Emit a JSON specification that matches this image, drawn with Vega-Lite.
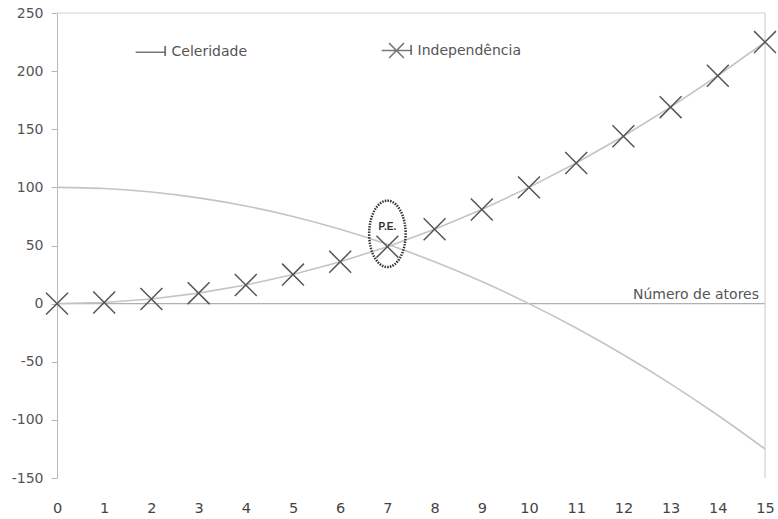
{
  "$schema": "https://vega.github.io/schema/vega-lite/v6.json",
  "width": 708,
  "height": 465,
  "autosize": {"type": "none"},
  "padding": {"left": 57, "top": 13, "right": 13, "bottom": 41},
  "background": "white",
  "config": {
    "view": {"stroke": null},
    "font": "DejaVu Sans",
    "axis": {"grid": false}
  },
  "datasets": {
    "series": [
      {"x": 0, "cel": 100, "ind": 0},
      {"x": 1, "cel": 99, "ind": 1},
      {"x": 2, "cel": 96, "ind": 4},
      {"x": 3, "cel": 91, "ind": 9},
      {"x": 4, "cel": 84, "ind": 16},
      {"x": 5, "cel": 75, "ind": 25},
      {"x": 6, "cel": 64, "ind": 36},
      {"x": 7, "cel": 51, "ind": 49},
      {"x": 8, "cel": 36, "ind": 64},
      {"x": 9, "cel": 19, "ind": 81},
      {"x": 10, "cel": 0, "ind": 100},
      {"x": 11, "cel": -21, "ind": 121},
      {"x": 12, "cel": -44, "ind": 144},
      {"x": 13, "cel": -69, "ind": 169},
      {"x": 14, "cel": -96, "ind": 196},
      {"x": 15, "cel": -125, "ind": 225}
    ]
  },
  "layer": [
    {
      "data": {"values": [{"y": 0}]},
      "mark": {"type": "rule", "color": "#b0b0b0", "strokeWidth": 1.2},
      "encoding": {"y": {"field": "y", "type": "quantitative", "scale": {"domain": [-150, 250], "nice": false},
          "axis": {"values": [-150,-100,-50,0,50,100,150,200,250], "labelExpr": "toString(datum.value)", "domain": true, "domainColor": "#b8b8b8", "tickColor": "#b8b8b8", "tickSize": 6, "labelPadding": 8, "labelFontSize": 14, "labelColor": "#555", "title": null}}}
    },
    {
      "data": {"values": [{"y": 250}]},
      "mark": {"type": "rule", "color": "#d0d0d0", "strokeWidth": 1},
      "encoding": {"y": {"field": "y", "type": "quantitative"}}
    },
    {
      "data": {"values": [{"x": 15}]},
      "mark": {"type": "rule", "color": "#c8c8c8", "strokeWidth": 1},
      "encoding": {"x": {"field": "x", "type": "quantitative", "scale": {"domain": [0, 15], "nice": false},
          "axis": {"orient": "bottom", "domain": false, "ticks": false, "values": [0,1,2,3,4,5,6,7,8,9,10,11,12,13,14,15], "labelPadding": 23, "labelFontSize": 14.5, "labelColor": "#444", "title": null, "labelFlush": false}}}
    },
    {
      "data": {"name": "series"},
      "mark": {"type": "line", "color": "#c4c4c4", "strokeWidth": 1.6, "interpolate": "monotone"},
      "encoding": {
        "x": {"field": "x", "type": "quantitative"},
        "y": {"field": "cel", "type": "quantitative"}
      }
    },
    {
      "data": {"name": "series"},
      "mark": {"type": "line", "color": "#c4c4c4", "strokeWidth": 1.6},
      "encoding": {
        "x": {"field": "x", "type": "quantitative"},
        "y": {"field": "ind", "type": "quantitative"}
      }
    },
    {
      "data": {"name": "series"},
      "mark": {"type": "point", "shape": "M-1,-1L1,1M-1,1L1,-1", "filled": false, "strokeWidth": 1.5, "size": 480, "color": "#555", "opacity": 1},
      "encoding": {
        "x": {"field": "x", "type": "quantitative"},
        "y": {"field": "ind", "type": "quantitative"}
      }
    },
    {
      "data": {"values": [{"s": "I Celeridade", "x": 0, "y": 0}]},
      "transform": [{"filter": "false"}],
      "mark": {"type": "point", "filled": false, "color": "#777", "opacity": 1},
      "encoding": {
        "x": {"field": "x", "type": "quantitative"},
        "y": {"field": "y", "type": "quantitative"},
        "shape": {
          "field": "s", "type": "nominal",
          "scale": {"domain": ["I Celeridade", "I Independência"], "range": ["M-2,0H2", "M-2,0H2M-1,-1L1,1M-1,1L1,-1"]},
          "legend": {
            "orient": "none", "legendX": 85, "legendY": 29, "direction": "horizontal", "title": null,
            "symbolSize": 220, "symbolStrokeColor": "#777", "symbolStrokeWidth": 1.5, "symbolType": "stroke",
            "labelFontSize": 14, "labelColor": "#555", "labelOffset": 4, "columnPadding": 130
          }
        }
      }
    },
    {
      "data": {"values": [{"x": 7, "y": 60}]},
      "mark": {"type": "point", "shape": "M0,-1A0.55,1 0 1,1 0,1A0.55,1 0 1,1 0,-1Z", "size": 4400, "filled": false, "stroke": "#333", "strokeWidth": 2.5, "strokeDash": [1.5, 1.2], "opacity": 1},
      "encoding": {
        "x": {"field": "x", "type": "quantitative"},
        "y": {"field": "y", "type": "quantitative"}
      }
    },
    {
      "data": {"values": [{"x": 7, "y": 66, "t": "P.E."}]},
      "mark": {"type": "text", "fontSize": 10, "fontWeight": "bold", "color": "#333", "font": "Liberation Sans"},
      "encoding": {
        "x": {"field": "x", "type": "quantitative"},
        "y": {"field": "y", "type": "quantitative"},
        "text": {"field": "t"}
      }
    },
    {
      "data": {"values": [{"x": 15, "y": 7, "t": "Número de atores"}]},
      "mark": {"type": "text", "fontSize": 14, "color": "#555", "align": "right", "baseline": "middle", "dx": -6},
      "encoding": {
        "x": {"field": "x", "type": "quantitative"},
        "y": {"field": "y", "type": "quantitative"},
        "text": {"field": "t"}
      }
    }
  ]
}
